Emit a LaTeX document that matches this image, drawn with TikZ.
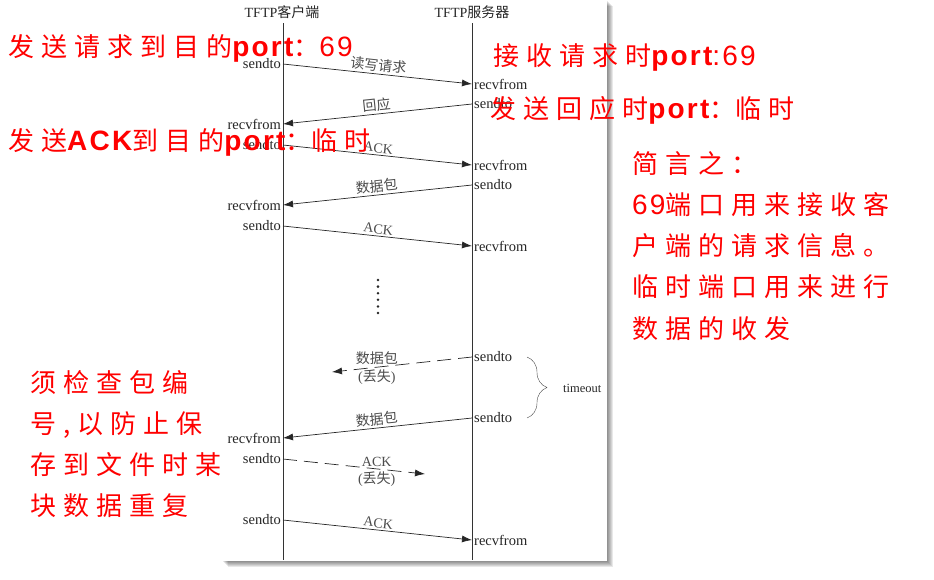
\documentclass[tikz,border=0pt]{standalone}
\usepackage{fontspec}
\setmainfont{Liberation Serif}
\newfontfamily\hanzi{Noto Sans CJK SC}
\newfontfamily\hanzired{Noto Sans CJK SC}[LetterSpace=27]
\newfontfamily\latinred{Liberation Sans}[LetterSpace=8]
\usetikzlibrary{arrows.meta,decorations.pathreplacing}

\newcommand\redbf[1]{{\latinred\fontsize{28}{41}\selectfont\bfseries #1}}
\newcommand\redrm[1]{{\latinred\fontsize{28}{41}\selectfont #1}}

\begin{document}
\begin{tikzpicture}[x=1pt, y=-1pt, >={Latex[length=10pt, width=7pt]},
  life/.style={draw=black!80, line width=0.8pt},
  call/.style={->, draw=black!85, line width=0.7pt},
  lost/.style={call, dash pattern=on 14pt off 7pt},
  api/.style={font=\fontsize{14.5}{16}\selectfont, text=black!85, inner sep=2pt},
  msg/.style={font=\fontsize{14}{16}\selectfont, text=black!70, inner sep=2pt},
  head/.style={font=\fontsize{14}{16}\selectfont, text=black!85},
  note/.style={anchor=base west, inner sep=0pt, text=red, font=\hanzired\fontsize{26}{41}\selectfont}]

  % page and shaded card
  \useasboundingbox (0,0) rectangle (934,579);
  \foreach \d in {1,...,6}
    \fill[black, opacity=0.09] (222+\d,\d) rectangle (607+\d,561+\d);
  \fill[white] (222,0) rectangle (607,561);

  % lifelines
  \node[head] (client) at (282,12) {TFTP{\hanzi 客户端}};
  \node[head] (server) at (472,12) {TFTP{\hanzi 服务器}};
  \coordinate (cTop) at (283,23); \coordinate (cEnd) at (283,560);
  \coordinate (sTop) at (472,23); \coordinate (sEnd) at (472,560);
  \draw[life] (cTop) -- (cEnd);
  \draw[life] (sTop) -- (sEnd);

  % client -> server
  \foreach \n/\ya/\yb/\txt in {1/64/84/{\hanzi 读写请求}, 3/145/165/ACK, 5/226/246/ACK, 9/520/540/ACK} {
    \node[api, left] (cs\n) at (283,\ya) {sendto};
    \node[api, right] (sr\n) at (472,\yb) {recvfrom};
    \draw[call] (cs\n.east) -- node[msg, above, sloped] {\txt} (sr\n.west);
  }

  % server -> client
  \foreach \n/\ya/\yb/\txt in {2/104/124/{\hanzi 回应}, 4/185/205/{\hanzi 数据包}, 7/418/438/{\hanzi 数据包}} {
    \node[api, right] (ss\n) at (472,\ya) {sendto};
    \node[api, left] (cr\n) at (283,\yb) {recvfrom};
    \draw[call] (ss\n.west) -- node[msg, above, sloped] {\txt} (cr\n.east);
  }

  % lost packets
  \node[api, right] (ss6) at (472,357) {sendto};
  \coordinate (drop6) at (332,372);
  \draw[lost] (ss6.west) -- node[msg, pos=0.68, above] {\hanzi 数据包}
    node[msg, pos=0.68, below] {({\hanzi 丢失})} (drop6);
  \node[api, left] (cs8) at (283,459) {sendto};
  \coordinate (drop8) at (425,474);
  \draw[lost] (cs8.east) -- node[msg, pos=0.66, above] {ACK}
    node[msg, pos=0.66, below] {({\hanzi 丢失})} (drop8);

  % more rounds
  \foreach \k in {0,...,5}
    \fill[black!85] (378,280+6.6*\k) circle (1.4pt);

  % timeout brace
  \coordinate (toTop) at (527,357);
  \coordinate (toEnd) at (527,418);
  \draw[black!70, decorate, decoration={brace, amplitude=20pt}] (toTop) -- (toEnd);
  \node[api, right, font=\fontsize{12.5}{14}\selectfont] (timeout) at (561,388) {timeout};

  % red notes
  \node[note] (askPort) at (8,56) {发送请求到目的\redbf{port}{\hanzi ：}\redrm{69}};
  \node[note] (ackPort) at (8,150) {发送\redbf{ACK}到目的\redbf{port}{\hanzi ：}临时};
  \node[note] (recvPort) at (493,65) {接收请求时\redbf{port}\redrm{:69}};
  \node[note] (replyPort) at (490,118) {发送回应时\redbf{port}{\hanzi ：}临时};
  \foreach \i/\line in {0/简言之：, 1/\redrm{69}端口用来接收客, 2/户端的请求信息。, 3/临时端口用来进行, 4/数据的收发}
    \node[note] (sum\i) at (632,173+41.25*\i) {\line};
  \foreach \i/\line in {0/须检查包编, 1/{号,以防止保}, 2/存到文件时某, 3/块数据重复}
    \node[note] (chk\i) at (30,392+41.3*\i) {\line};
\end{tikzpicture}
\end{document}
